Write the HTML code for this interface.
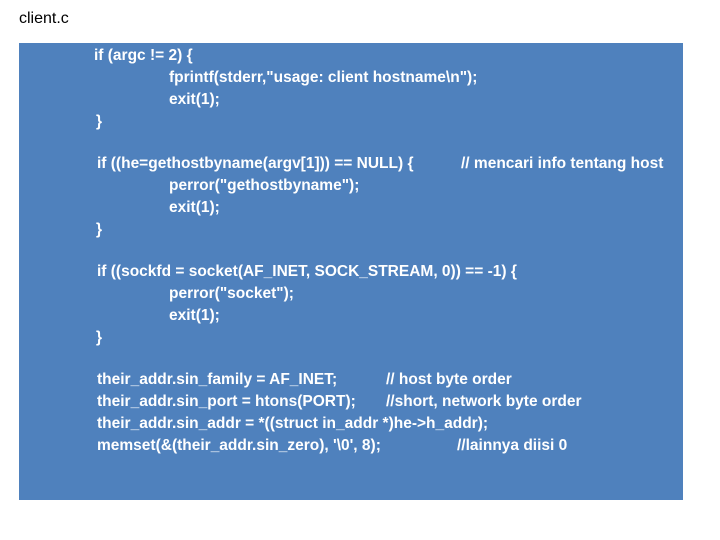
<!DOCTYPE html>
<html><head><meta charset="utf-8"><style>
body{margin:0;width:720px;height:540px;background:#fff;position:relative;overflow:hidden;font-family:"Liberation Sans",sans-serif}
.t{position:absolute;left:19px;top:10px;font-size:16px;color:#000}
.box{position:absolute;left:19px;top:43px;width:664px;height:457px;background:#4f81bd}
.l{position:absolute;color:#fff;font-size:15.5px;font-weight:bold;white-space:pre;line-height:18px}
</style></head><body>
<div class="t">client.c</div>
<div class="box"></div>
<div class="l" style="left:94px;top:47px">if (argc != 2) {</div>
<div class="l" style="left:169px;top:69px">fprintf(stderr,"usage: client hostname\n");</div>
<div class="l" style="left:169px;top:91px">exit(1);</div>
<div class="l" style="left:96px;top:113px">}</div>
<div class="l" style="left:97px;top:155px">if ((he=gethostbyname(argv[1])) == NULL) {</div>
<div class="l" style="left:461px;top:155px">// mencari info tentang host</div>
<div class="l" style="left:169px;top:177px">perror("gethostbyname");</div>
<div class="l" style="left:169px;top:199px">exit(1);</div>
<div class="l" style="left:96px;top:221px">}</div>
<div class="l" style="left:97px;top:263px">if ((sockfd = socket(AF_INET, SOCK_STREAM, 0)) == -1) {</div>
<div class="l" style="left:169px;top:285px">perror("socket");</div>
<div class="l" style="left:169px;top:307px">exit(1);</div>
<div class="l" style="left:96px;top:329px">}</div>
<div class="l" style="left:97px;top:371px">their_addr.sin_family = AF_INET;</div>
<div class="l" style="left:386px;top:371px">// host byte order</div>
<div class="l" style="left:97px;top:393px">their_addr.sin_port = htons(PORT);</div>
<div class="l" style="left:386px;top:393px">//short, network byte order</div>
<div class="l" style="left:97px;top:415px">their_addr.sin_addr = *((struct in_addr *)he-&gt;h_addr);</div>
<div class="l" style="left:97px;top:437px">memset(&amp;(their_addr.sin_zero), '\0', 8);</div>
<div class="l" style="left:457px;top:437px">//lainnya diisi 0</div>
</body></html>
